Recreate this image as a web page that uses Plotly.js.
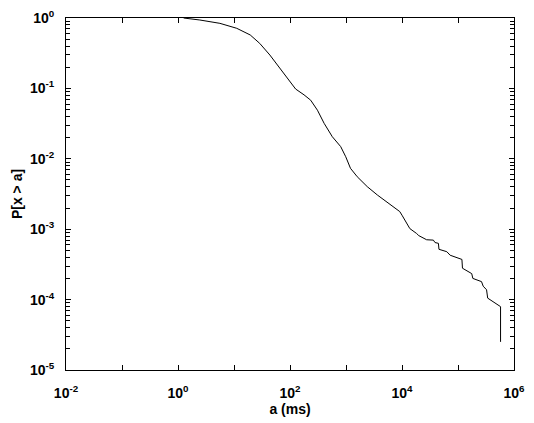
<!DOCTYPE html>
<html>
<head>
<meta charset="utf-8">
<script src="https://cdn.plot.ly/plotly-3.0.1.min.js"></script>
<style>html,body{margin:0;padding:0;background:#fff;}#chart{width:534px;height:423px;}</style>
</head>
<body>
<div id="chart"></div>
<script>
// CCDF (a in ms, P[x > a])
const aValues = [1.26, 2.45, 5.6, 11.2, 19.5, 28.8, 43.7, 66, 93, 126, 178, 234, 309, 407, 569, 804, 989, 1202, 1585, 2399, 3631, 4786, 7244, 9120, 10000, 13800, 18200, 19950, 27540, 36300, 38900, 44700, 45700, 63100, 72400, 117500, 120200, 147900, 175800, 184100, 263000, 281800, 323600, 338800, 436500, 575400, 575400];
const pValues = [1.0, 0.937, 0.84, 0.714, 0.574, 0.436, 0.298, 0.193, 0.132, 0.098, 0.081, 0.068, 0.049, 0.0319, 0.0206, 0.0149, 0.0107, 0.00733, 0.00557, 0.00402, 0.00306, 0.0026, 0.002, 0.00178, 0.00158, 0.00102, 0.00087, 0.00081, 0.000708, 0.0007, 0.000646, 0.00063, 0.000518, 0.000479, 0.000427, 0.000372, 0.000279, 0.000251, 0.000234, 0.0002, 0.00018, 0.000155, 0.000138, 0.000105, 0.0000912, 0.0000794, 0.0000251];

const xTickVals = [0.01, 1, 100, 10000, 1000000];
const xTickText = ['10<sup>-2</sup>', '10<sup>0</sup>', '10<sup>2</sup>', '10<sup>4</sup>', '10<sup>6</sup>'];
const xMinorVals = [0.1, 10, 1000, 100000];
const yTickVals = [1e-5, 1e-4, 1e-3, 1e-2, 1e-1, 1];
const yTickText = ['10<sup>-5</sup>', '10<sup>-4</sup>', '10<sup>-3</sup>', '10<sup>-2</sup>', '10<sup>-1</sup>', '10<sup>0</sup>'];
const yMinorMultipliers = [2, 3, 4, 5, 6, 7, 8, 9];

const yMinorVals = [];
yTickVals.forEach(d => { if (d < 1) yMinorMultipliers.forEach(m => yMinorVals.push(d * m)); });

const fam = 'Liberation Sans, Arial, sans-serif';
const txt = {family: fam, size: 14, color: '#000', weight: 'bold'};

const trace = {
  x: aValues, y: pValues, type: 'scatter', mode: 'lines',
  line: {color: '#000', width: 1}, hoverinfo: 'skip'
};

const layout = {
  width: 534, height: 423,
  margin: {l: 66, r: 20, t: 18, b: 53},
  paper_bgcolor: '#fff', plot_bgcolor: '#fff',
  showlegend: false,
  font: txt,
  xaxis: {
    type: 'log', range: [-2, 6],
    tickmode: 'array', tickvals: xTickVals, ticktext: xTickText,
    ticks: 'inside', ticklen: 5, tickwidth: 1, tickcolor: '#000',
    minor: {tickmode: 'array', tickvals: xMinorVals, ticks: 'inside', ticklen: 5, tickwidth: 1, tickcolor: '#000', showgrid: false},
    showline: true, linecolor: '#000', linewidth: 1, mirror: 'ticks',
    showgrid: false, zeroline: false,
    tickfont: txt,
    ticklabelstandoff: 10,
    title: {text: 'a (ms)', font: txt, standoff: 2}
  },
  yaxis: {
    type: 'log', range: [-5, 0],
    tickmode: 'array', tickvals: yTickVals, ticktext: yTickText,
    ticks: 'inside', ticklen: 5, tickwidth: 1, tickcolor: '#000',
    minor: {tickmode: 'array', tickvals: yMinorVals, ticks: 'inside', ticklen: 4, tickwidth: 1, tickcolor: '#000', showgrid: false},
    showline: true, linecolor: '#000', linewidth: 1, mirror: 'ticks',
    showgrid: false, zeroline: false,
    tickfont: txt,
    ticklabelstandoff: 8,
    title: {text: 'P[x > a]', font: txt, standoff: 4}
  }
};

Plotly.newPlot('chart', [trace], layout, {displayModeBar: false, staticPlot: true});
</script>
</body>
</html>
